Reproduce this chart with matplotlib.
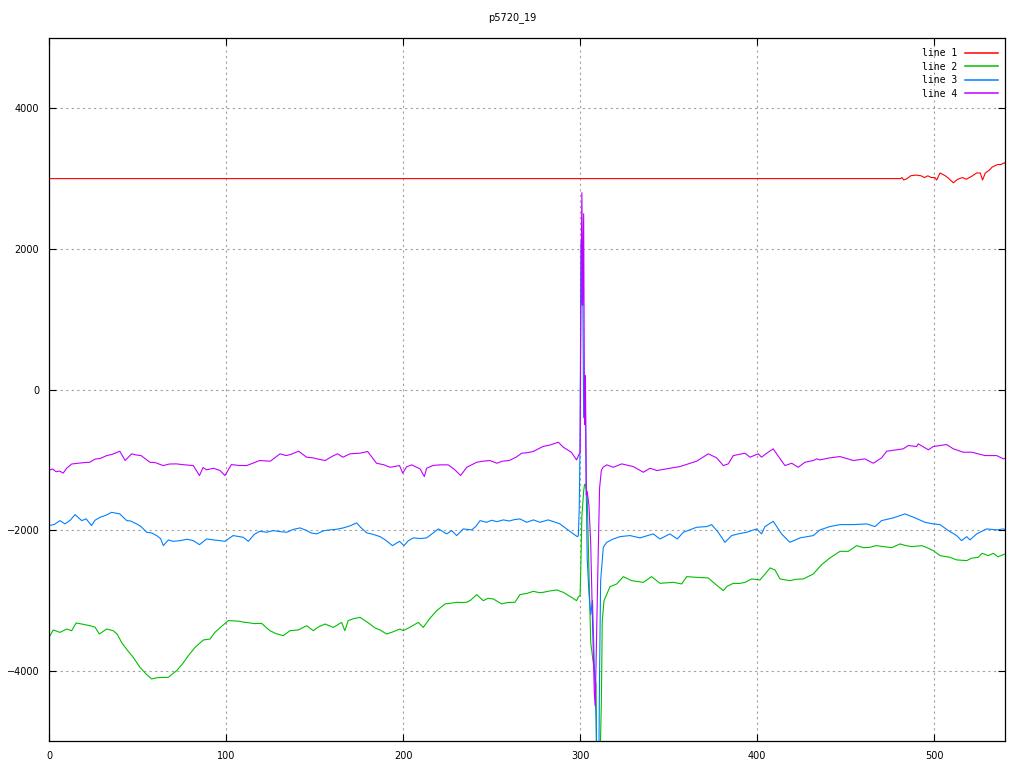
import matplotlib
matplotlib.use("Agg")
import matplotlib.pyplot as plt

# chart data
title = "p5720_19"
labels = ["line 1", "line 2", "line 3", "line 4"]
colors = ["#ff0000", "#00c000", "#0080ff", "#c000ff"]

line1_x = [0, 480.8, 481.8, 482.8, 484.7, 486.7, 489.6, 492.6, 494.5, 496.4, 498.4,
           500.4, 501.4, 503.3, 506.3, 508.3, 510.8, 513.2, 516.1, 518.1, 521, 524,
           526, 527.3, 528.9, 530.9, 532.8, 535.8, 537.7, 539.7, 541]
line1_y = [3000, 3000, 3015, 2980, 3000, 3040, 3050, 3040, 3015, 3040, 3015,
           3015, 2980, 3080, 3040, 3000, 2940, 2990, 3015, 2990, 3030, 3080,
           3080, 2980, 3080, 3115, 3165, 3200, 3200, 3225, 3190]

line2_x = [0, 2.4, 6.2, 10, 12.8, 15.3, 18.5, 23.2, 26, 28.4, 32.6, 36.3, 38.5, 41, 44,
           47.6, 51.4, 55, 58, 61, 64.6, 67.4, 70, 72.1, 75.5, 78.7, 82.5, 87.2, 91,
           93.7, 97, 101.3, 104, 107.9, 110, 112.6, 116, 120.1, 124.8, 128, 132.3,
           136.1, 140.8, 145.6, 149.3, 152, 155.9, 160.6, 165.3, 167.1, 169, 172,
           175.7, 178, 181.3, 184, 187, 190.7, 194, 198.2, 200.1, 204, 208.6, 211.4,
           215, 219, 223.7, 227, 230.3, 233, 235.9, 238, 241.6, 245.3, 248, 251,
           255.7, 259, 263.2, 266, 270, 273.6, 277, 279.2, 283, 286.8, 290.5, 295.2,
           298, 299, 300, 300.5, 301, 302, 302.5, 303, 304, 305, 306, 307, 308, 309,
           309.5, 311, 312, 312.5, 313.5, 316.9, 320.7, 324.4, 329.1, 335.7, 340.4,
           345.1, 352.6, 357.4, 360.2, 365.8, 372.4, 376, 380.9, 383, 386.5, 390,
           393.1, 396.9, 401.6, 404, 407.3, 410.1, 412.9, 418.5, 422, 426.1, 431.7,
           436.5, 441.1, 446.8, 451.5, 456.2, 460, 463.8, 467, 471.3, 476, 480.7,
           484, 487.3, 493, 496, 499.5, 503.3, 508.9, 512.7, 518.4, 521, 524.9,
           527, 530.6, 533.4, 536, 539.1, 540]
line2_y = [-3526, -3421, -3455, -3407, -3431, -3321, -3336, -3360, -3380, -3478, -3407,
           -3431, -3480, -3597, -3700, -3811, -3953, -4050, -4118, -4100, -4095, -4095,
           -4040, -4000, -3900, -3787, -3668, -3563, -3549, -3455, -3380, -3288, -3290,
           -3298, -3310, -3317, -3330, -3327, -3431, -3470, -3502, -3431, -3421, -3360,
           -3431, -3380, -3336, -3384, -3313, -3431, -3288, -3260, -3241, -3280, -3336,
           -3390, -3421, -3478, -3450, -3407, -3431, -3380, -3313, -3384, -3260, -3146,
           -3050, -3040, -3027, -3030, -3027, -3000, -2918, -3004, -2970, -2980, -3050,
           -3030, -3027, -2918, -2900, -2871, -2890, -2885, -2865, -2852, -2885, -2957,
           -3004, -2950, -2932, -2400, -1800, -1450, -1350, -1346, -1500, -2600, -3600,
           -3800, -4000, -4200, -5600, -5600, -4440, -3300, -3004, -2804, -2766, -2662,
           -2719, -2743, -2662, -2757, -2743, -2766, -2662, -2672, -2681, -2760, -2861,
           -2800, -2757, -2760, -2743, -2695, -2709, -2640, -2538, -2567, -2695, -2719,
           -2700, -2695, -2624, -2491, -2396, -2302, -2302, -2221, -2250, -2245, -2220,
           -2235, -2250, -2197, -2220, -2235, -2221, -2250, -2292, -2363, -2387, -2424,
           -2434, -2400, -2387, -2330, -2363, -2330, -2380, -2349, -2340]

line3_x = [0, 3, 6.2, 9, 12, 14.7, 18.5, 21, 24, 26, 28.8, 32, 35.4, 38, 40, 43.9, 46,
           49.5, 52, 55.2, 58, 60.8, 63, 64.6, 67.4, 70, 74, 78, 81.5, 85, 89, 93,
           96.6, 99.4, 104, 107, 109.7, 112.6, 116, 119, 123, 126.7, 130, 134.3, 138,
           141.8, 145, 148, 151.2, 155, 158.7, 162, 166.2, 170, 173.8, 176, 179.5,
           183, 187, 190, 194, 198, 200.5, 203, 205.8, 210, 213.3, 217, 220, 224.6,
           227.5, 230.3, 234, 238.8, 241, 243.5, 247.2, 250, 253, 256.6, 260, 263,
           266, 269.8, 273.6, 277.3, 282, 285, 288.6, 292.4, 296.2, 298.4, 299,
           299.5, 300, 300.5, 301, 301.5, 302, 303, 303.5, 304, 305, 306, 307, 308,
           309, 309.5, 310.5, 311, 311.6, 313.1, 315, 318.8, 322.5, 328.2, 333.8,
           341.3, 345.1, 350.7, 354.9, 358.3, 365.8, 371.5, 374.3, 378, 381.8, 385.6,
           389.3, 394, 399.7, 402.5, 404.4, 409.1, 413.8, 418.5, 424.2, 431.7, 435.5,
           441.1, 446.8, 454.3, 461.9, 466.6, 470.3, 476.9, 483.5, 489.2, 494.8,
           499.5, 503.3, 508, 512.7, 515.5, 518.4, 520.2, 524, 529.6, 535.3, 539.1,
           540]
line3_y = [-1936, -1920, -1865, -1912, -1860, -1780, -1865, -1840, -1936, -1860, -1818,
           -1790, -1747, -1760, -1770, -1865, -1870, -1912, -1950, -2031, -2040, -2078,
           -2120, -2221, -2140, -2160, -2150, -2130, -2150, -2207, -2126, -2140, -2150,
           -2160, -2078, -2090, -2102, -2160, -2060, -2017, -2030, -2007, -2020, -2031,
           -1990, -1969, -2000, -2040, -2054, -2010, -1997, -1990, -1969, -1940, -1898,
           -1960, -2040, -2060, -2093, -2140, -2221, -2160, -2221, -2150, -2111, -2120,
           -2111, -2040, -1983, -2054, -2007, -2078, -1983, -1997, -1950, -1865, -1889,
           -1860, -1880, -1855, -1870, -1850, -1841, -1889, -1855, -1889, -1855, -1880,
           -1912, -1983, -2054, -2093, -2080, -1700, -700, 2100, 1200, 1500, -400, -200,
           -1500, -2400, -2900, -3200, -3000, -3900, -4700, -5600, -5600, -4000, -2719,
           -2245, -2174, -2126, -2093, -2078, -2111, -2054, -2126, -2054, -2126, -2031,
           -1960, -1950, -1922, -2031, -2174, -2078, -2054, -2031, -1983, -2054, -1950,
           -1875, -2054, -2174, -2111, -2078, -1997, -1950, -1922, -1922, -1912, -1950,
           -1865, -1826, -1770, -1826, -1889, -1912, -1922, -2007, -2078, -2150, -2093,
           -2140, -2054, -1983, -1997, -1983, -1990]

line4_x = [0, 2, 4, 6, 8, 10, 12.8, 16, 20, 23, 26, 29, 32.6, 36, 40, 43, 46.7, 49, 52,
           57, 60, 64.5, 68, 72, 76, 81.5, 85, 87, 89, 93, 96.6, 99.4, 103, 107,
           111.6, 115, 119, 125, 130.5, 134, 137, 141, 145.5, 149, 152, 156, 160, 163,
           166, 170, 175.7, 180, 185, 189, 192.6, 198, 199.8, 202, 204.9, 209.6, 212,
           213.3, 217, 220.8, 225.5, 229.3, 232.5, 236, 241.6, 245, 249, 253, 256,
           260, 264, 267, 270, 273.5, 276, 279, 283, 287.7, 290.5, 293, 295, 298,
           299.5, 300, 300.5, 301, 301.5, 302, 302.5, 303, 303.5, 304, 305, 306, 307,
           308, 308.5, 309, 310, 311, 312, 313, 315, 318.8, 323.5, 330, 335.7, 339.5,
           343.3, 348.9, 356.4, 361.1, 365.8, 372.4, 377.1, 380.9, 383.7, 386.5,
           393.1, 396, 400.6, 402.5, 405.4, 409.1, 411, 415.7, 419.5, 423.2, 427,
           431.7, 433.6, 435.5, 441.1, 446.8, 454.3, 460.9, 465.6, 470.3, 473.2,
           478.8, 482.5, 485.4, 490.1, 491, 496.7, 499.5, 507, 510.8, 516.4, 521.2,
           528.7, 535.3, 539.1, 540]
line4_y = [-1150, -1130, -1170, -1160, -1190, -1120, -1060, -1050, -1040, -1035, -990,
           -980, -940, -920, -878, -1010, -915, -930, -940, -1035, -1040, -1082, -1060,
           -1058, -1070, -1082, -1224, -1110, -1143, -1120, -1153, -1224, -1068, -1080,
           -1082, -1050, -1010, -1020, -915, -940, -920, -878, -963, -972, -990, -1010,
           -950, -915, -963, -915, -906, -882, -1049, -1070, -1106, -1082, -1190, -1100,
           -1072, -1129, -1238, -1120, -1080, -1072, -1072, -1143, -1224, -1106, -1035,
           -1020, -1010, -1049, -1020, -1010, -960, -906, -900, -882, -850, -811, -790,
           -750, -821, -860, -892, -1001, -915, -900, 1500, 2800, 1200, 2500, -500, 200,
           -1500, -1450, -1650, -2200, -3300, -4300, -4500, -3900, -2600, -1400, -1150,
           -1106, -1072, -1106, -1058, -1096, -1177, -1120, -1153, -1129, -1096, -1058,
           -1020, -915, -972, -1082, -1058, -940, -906, -963, -915, -963, -906, -844,
           -915, -1082, -1049, -1106, -1035, -1010, -987, -1001, -972, -954, -1010,
           -987, -1049, -972, -878, -858, -844, -797, -811, -773, -858, -811, -783,
           -844, -892, -892, -940, -940, -987, -980]

series_x = [line1_x, line2_x, line3_x, line4_x]
series_y = [line1_y, line2_y, line3_y, line4_y]

fig = plt.figure(figsize=(10.24, 7.68), dpi=100)
ax = fig.add_axes([49 / 1024, 1 - 741 / 768, 956 / 1024, 703 / 768])

for xs, ys, c, lab in zip(series_x, series_y, colors, labels):
    ax.plot(xs, ys, color=c, lw=0.8, label=lab)

ax.set_xlim(0, 540)
ax.set_ylim(-5000, 5000)
ax.set_xticks(range(0, 501, 100))
ax.set_yticks(range(-4000, 4001, 2000))
ax.grid(True, color="#a0a0a0", linestyle=(0, (2, 3)), linewidth=0.8)
ax.tick_params(direction="in", length=5, width=0.8, top=True, right=True,
               labelsize=7, colors="black")
ax.tick_params(axis="y", pad=7)
ax.tick_params(axis="x", pad=7)
for s in ax.spines.values():
    s.set_linewidth(0.9)

fig.text(0.5, 1 - 18 / 768, title, ha="center", va="center", fontsize=7)

leg = ax.legend(loc="upper right", bbox_to_anchor=(1.0, 0.995), frameon=False,
                markerfirst=False,
                prop={"family": "DejaVu Sans Mono", "size": 7},
                handlelength=3.4, handletextpad=0.8, labelspacing=0.35,
                borderaxespad=0.3, borderpad=0.4)
for h in leg.get_lines():
    h.set_linewidth(1.1)

fig.savefig("out.png", dpi=100)
